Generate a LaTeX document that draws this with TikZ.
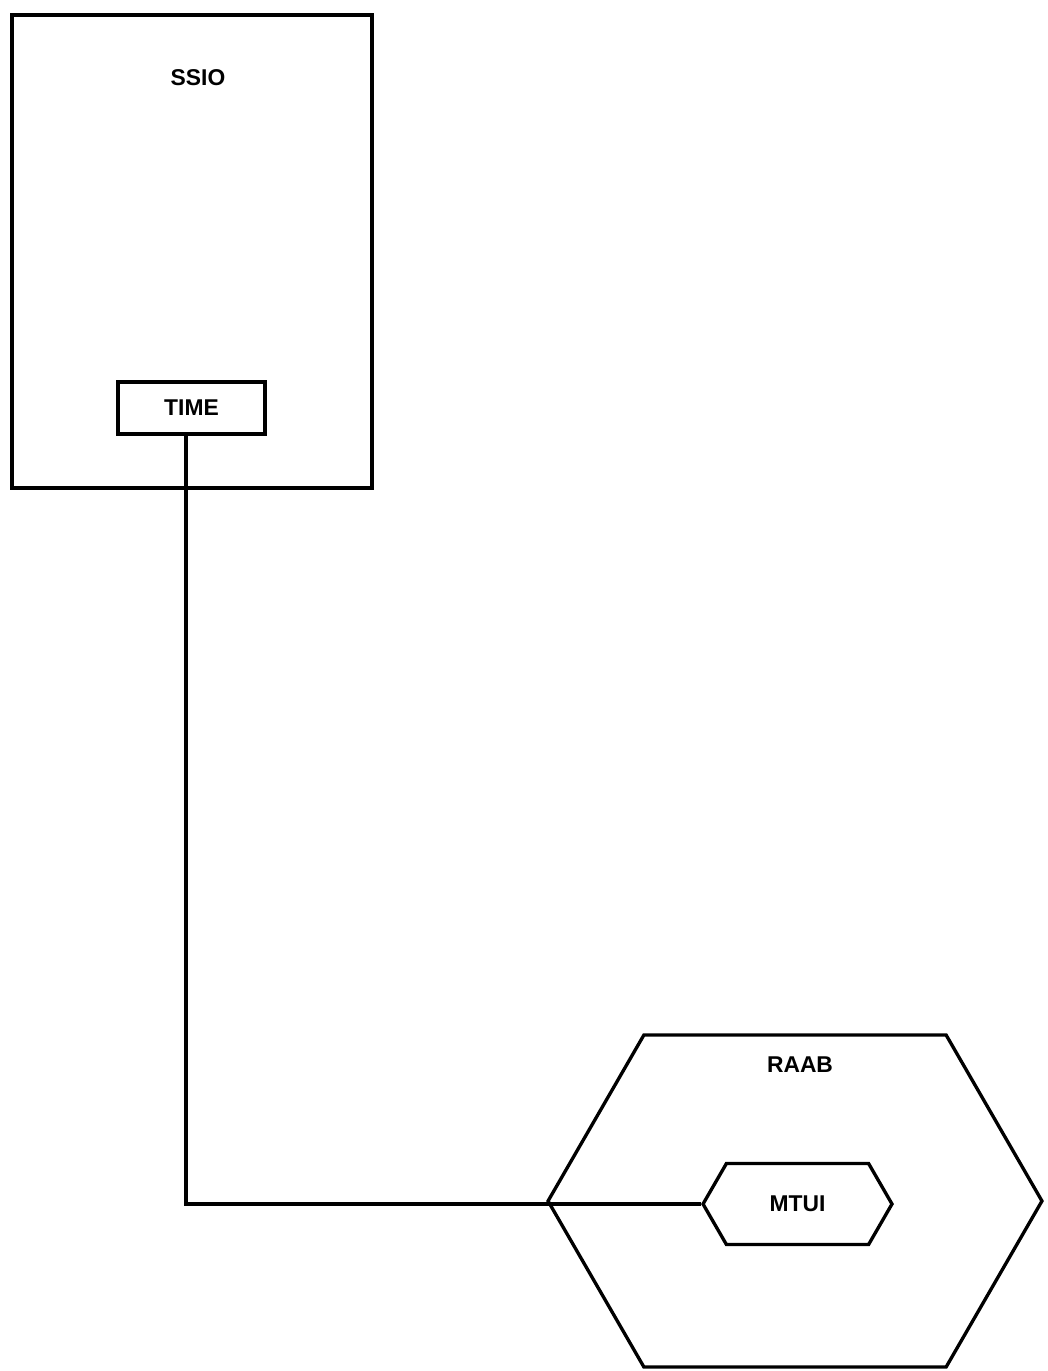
\documentclass[tikz,border=0pt]{standalone}
\usepackage{fontspec}
\setmainfont{Liberation Sans}
\usetikzlibrary{positioning, shapes.symbols}

\begin{document}
\begin{tikzpicture}[x=0.02cm, y=-0.02cm]

        % Styles
        \tikzset{
            frame/.style={draw, line width=1.9pt, inner sep=0pt},
            block/.style={draw, line width=1.9pt, font=\fontsize{13}{15}\selectfont\bfseries, inner sep=0pt},
            hexa/.style={draw, line width=1.9pt, shape=signal, signal to=west and east, signal pointer angle=120, inner sep=0pt, font=\fontsize{13}{15}\selectfont\bfseries},
            title/.style={font=\fontsize{13}{15}\selectfont\bfseries},
            link/.style={line width=1.9pt}
        }

        \useasboundingbox (0,0) rectangle (1047,1371);

        % --- SSIO ---
        \node[frame, minimum width=7.2cm, minimum height=9.46cm] (ssio) at (192,251.5) {};
        \node[title] (ssiolbl) at (198,78) {SSIO};
        \node[block, minimum width=2.94cm, minimum height=1.04cm] (time) at (191.5,408) {TIME};

        % --- RAAB ---
        \node[hexa, minimum width=9.88cm, minimum height=6.64cm] (raab) at (795,1201) {};
        \node[title] (raablbl) at (800,1065) {RAAB};
        \node[hexa, minimum width=3.78cm, minimum height=1.62cm] (mtui) at (797.5,1204) {MTUI};

        % Liaison
        \draw[link] ([xshift=-0.11cm]time.south) |- (mtui.west);

    \end{tikzpicture}
\end{document}
